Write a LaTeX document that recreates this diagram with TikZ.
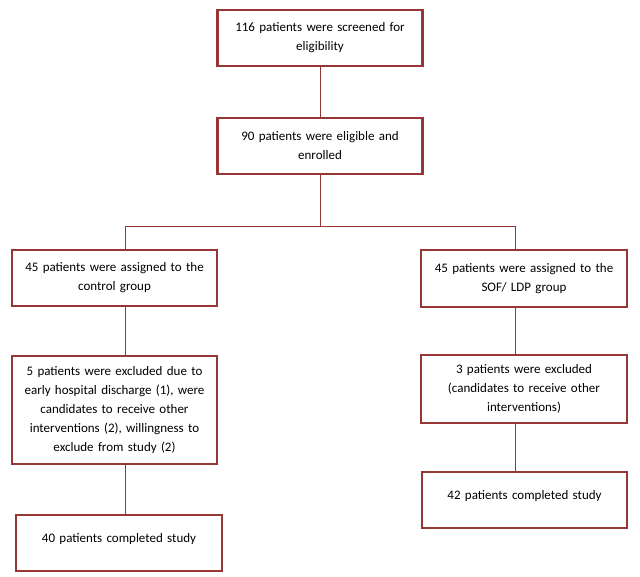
\documentclass[tikz,border=0pt]{standalone}
\usepackage{fontspec}
\setmainfont{Carlito}
\definecolor{boxred}{HTML}{953735}
\begin{document}
\begin{tikzpicture}[x=1pt,y=-1pt,
  box/.style={draw=boxred, line width=2.2pt, rectangle, align=center,
    inner sep=0pt, font=\fontsize{13}{19}\selectfont},
  conn/.style={draw=boxred, line width=0.9pt}]
\useasboundingbox (0,0) rectangle (640,576);
\node[box, minimum width=205, minimum height=56, text width=195] (b1) at (320,38)
  {116 patients were screened for\\eligibility};
\node[box, minimum width=205, minimum height=56, text width=195] (b2) at (320,146)
  {90 patients were eligible and\\enrolled};
\node[box, minimum width=205, minimum height=56, text width=200] (b3) at (114.5,278)
  {45 patients were assigned to the\\control group};
\node[box, minimum width=206, minimum height=57, text width=200] (b4) at (524,278.5)
  {45 patients were assigned to the\\SOF/ LDP group};
\node[box, minimum width=205, minimum height=108, text width=200] (b5) at (114.5,410)
  {5 patients were excluded due to\\early hospital discharge (1), were\\candidates to receive other\\interventions (2), willingness to\\exclude from study (2)};
\node[box, minimum width=206, minimum height=68, text width=200] (b7) at (524,389)
  {3 patients were excluded\\(candidates to receive other\\interventions)};
\node[box, minimum width=206, minimum height=56, text width=200] (b6) at (119,543)
  {40 patients completed study\\[-8pt]\mbox{}};
\node[box, minimum width=205, minimum height=56, text width=200] (b8) at (524.5,500)
  {42 patients completed study\\[-8pt]\mbox{}};
\coordinate (j) at (320,226);
\coordinate (jL) at (125,226);
\coordinate (jR) at (515,226);
\draw[conn] (b1.south) -- (b2.north);
\draw[conn] (b2.south) -- (j);
\draw[conn] (jL) -- (jR);
\draw[conn] (jL) -- (jL |- b3.north);
\draw[conn] (jR) -- (jR |- b4.north);
\draw[conn] (jL |- b3.south) -- (jL |- b5.north);
\draw[conn] (jL |- b5.south) -- (jL |- b6.north);
\draw[conn] (jR |- b4.south) -- (jR |- b7.north);
\draw[conn] (jR |- b7.south) -- (jR |- b8.north);
\end{tikzpicture}
\end{document}
